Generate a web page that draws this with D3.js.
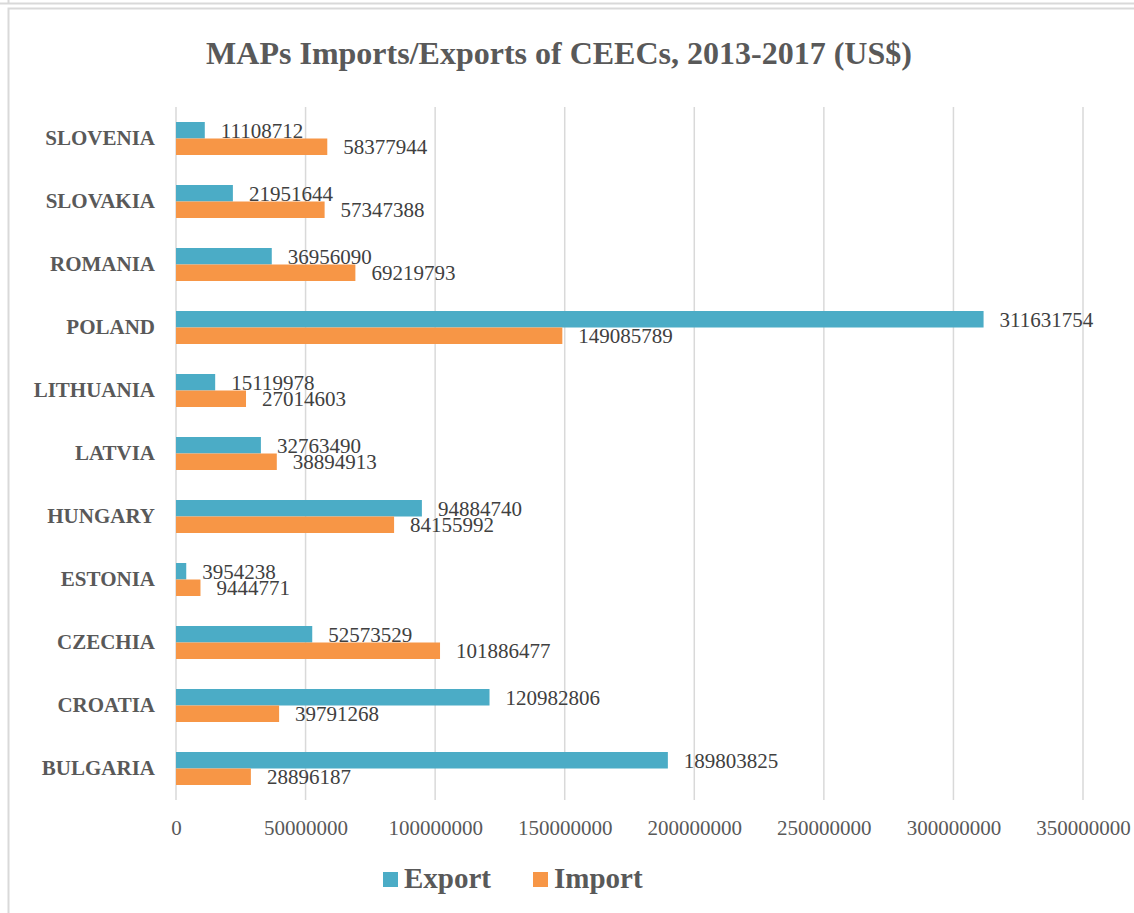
<!DOCTYPE html>
<html lang="en">
<head>
    <meta charset="UTF-8">
    <title>MAPs Imports/Exports of CEECs, 2013-2017 (US$)</title>
    <script src="https://d3js.org/d3.v7.min.js"></script>
    <style>
        body { margin: 0; background: #fff; }
        text { font-family: "Liberation Serif", "Times New Roman", serif; }
    </style>
</head>
<body>
    <svg width="1134" height="913" id="chart"></svg>
    <script>
        const width = 1134;
        const height = 913;

        // Data (top to bottom)
        const countries = ["SLOVENIA", "SLOVAKIA", "ROMANIA", "POLAND", "LITHUANIA", "LATVIA",
            "HUNGARY", "ESTONIA", "CZECHIA", "CROATIA", "BULGARIA"];
        const exportValues = [11108712, 21951644, 36956090, 311631754, 15119978, 32763490,
            94884740, 3954238, 52573529, 120982806, 189803825];
        const importValues = [58377944, 57347388, 69219793, 149085789, 27014603, 38894913,
            84155992, 9444771, 101886477, 39791268, 28896187];
        const seriesNames = ["Export", "Import"];
        const tickValues = [0, 50000000, 100000000, 150000000, 200000000, 250000000, 300000000, 350000000];

        const colors = { "Export": "#4BACC6", "Import": "#F79646" };
        const textGray = "#595959";

        const svg = d3.select("#chart");

        // outer frames (chart box sits below another one)
        svg.append("line")
            .attr("x1", 0).attr("x2", width)
            .attr("y1", 3.5).attr("y2", 3.5)
            .attr("stroke", "#d9d9d9").attr("stroke-width", 2);
        svg.append("line")
            .attr("x1", 8.5).attr("x2", 8.5)
            .attr("y1", 0).attr("y2", 4)
            .attr("stroke", "#d9d9d9").attr("stroke-width", 2);
        svg.append("rect")
            .attr("x", 8.5).attr("y", 8.5)
            .attr("width", width + 10).attr("height", height + 10)
            .attr("fill", "none")
            .attr("stroke", "#d9d9d9").attr("stroke-width", 2);

        // title
        svg.append("text")
            .attr("x", 559)
            .attr("y", 64)
            .attr("text-anchor", "middle")
            .attr("font-size", "32px")
            .attr("font-weight", "bold")
            .attr("fill", textGray)
            .text("MAPs Imports/Exports of CEECs, 2013-2017 (US$)");

        const x = d3.scaleLinear()
            .domain([0, 350000000])
            .range([176, 1083]);

        const y = d3.scaleBand()
            .domain(countries)
            .range([107, 800]);

        // the two bars of a group sit around the band centre
        const ySub = d3.scaleBand()
            .domain(seriesNames)
            .range([-16.5, 16.5]);

        // gridlines
        svg.append("g")
            .selectAll("line")
            .data(tickValues)
            .join("line")
            .attr("x1", d => x(d)).attr("x2", d => x(d))
            .attr("y1", 107).attr("y2", 800)
            .attr("stroke", "#d9d9d9")
            .attr("stroke-width", 1.5);

        // x tick labels
        const xAxis = svg.append("g")
            .attr("transform", "translate(0,835)")
            .call(d3.axisBottom(x).tickValues(tickValues).tickSize(0).tickPadding(0).tickFormat(d3.format("d")));
        xAxis.select(".domain").remove();
        xAxis.selectAll("text")
            .attr("dy", 0)
            .attr("font-family", "Liberation Serif")
            .attr("font-size", "21px")
            .attr("fill", textGray);

        // category labels
        const yAxis = svg.append("g")
            .attr("transform", "translate(155,0)")
            .call(d3.axisLeft(y).tickSize(0).tickPadding(0));
        yAxis.select(".domain").remove();
        yAxis.selectAll("text")
            .attr("font-family", "Liberation Serif")
            .attr("font-size", "21px")
            .attr("font-weight", "bold")
            .attr("fill", textGray);

        // bars
        const rows = countries.map((c, i) => ({
            country: c,
            values: [
                { series: "Export", value: exportValues[i] },
                { series: "Import", value: importValues[i] }
            ]
        }));

        const groups = svg.append("g")
            .selectAll("g")
            .data(rows)
            .join("g")
            .attr("transform", d => `translate(0,${y(d.country) + y.bandwidth() / 2})`);

        groups.selectAll("rect")
            .data(d => d.values)
            .join("rect")
            .attr("x", x(0))
            .attr("y", d => ySub(d.series))
            .attr("width", d => x(d.value) - x(0))
            .attr("height", ySub.bandwidth())
            .attr("fill", d => colors[d.series]);

        groups.selectAll("text")
            .data(d => d.values)
            .join("text")
            .attr("x", d => x(d.value) + 16)
            .attr("y", d => ySub(d.series) + ySub.bandwidth() / 2)
            .attr("dy", "0.35em")
            .attr("font-size", "21px")
            .attr("fill", "#404040")
            .text(d => d.value);

        // legend
        const legendX = { "Export": 383, "Import": 533 };
        const legend = svg.append("g")
            .selectAll("g")
            .data(seriesNames)
            .join("g")
            .attr("transform", d => `translate(${legendX[d]},872)`);
        legend.append("rect")
            .attr("width", 15).attr("height", 15)
            .attr("fill", d => colors[d]);
        legend.append("text")
            .attr("x", 21)
            .attr("y", 16)
            .attr("font-size", "29px")
            .attr("font-weight", "bold")
            .attr("fill", textGray)
            .text(d => d);
    </script>
</body>
</html>
